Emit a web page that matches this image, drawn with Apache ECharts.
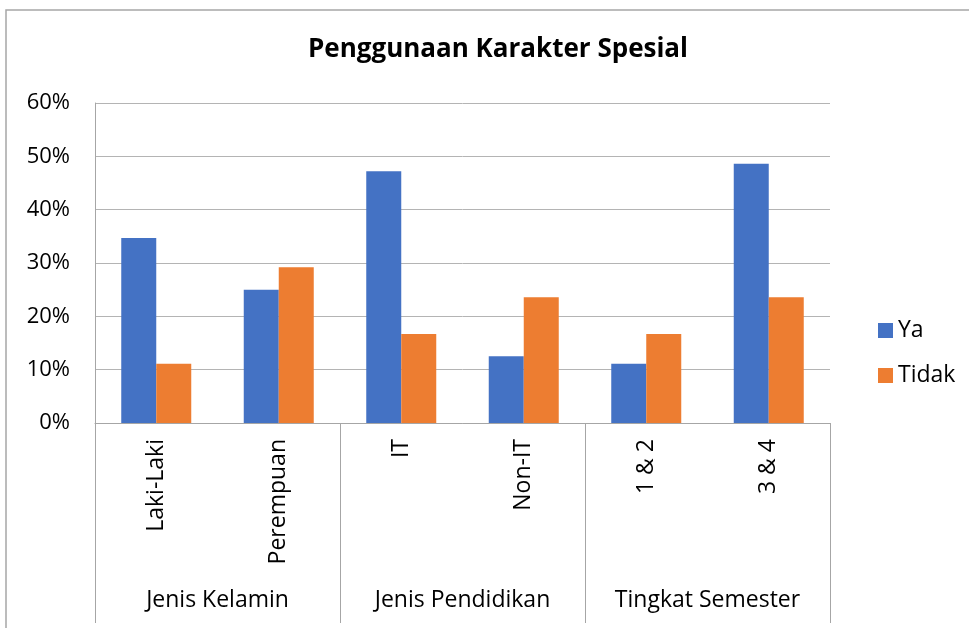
<!DOCTYPE html>
<html>
<head>
<meta charset="utf-8">
<script src="https://cdn.jsdelivr.net/npm/echarts@6/dist/echarts.min.js"></script>
<style>
  html, body { margin: 0; padding: 0; background: #fff; }
  #main { width: 969px; height: 628px; }
</style>
</head>
<body>
<div id="main"></div>
<script>
// data
var categories = ['Laki-Laki', 'Perempuan', 'IT', 'Non-IT', '1 & 2', '3 & 4'];
var groups = ['Jenis Kelamin', 'Jenis Pendidikan', 'Tingkat Semester'];
var ya = [0.347, 0.25, 0.472, 0.125, 0.111, 0.486];
var tidak = [0.111, 0.292, 0.167, 0.236, 0.167, 0.236];
var yTicks = [0, 0.1, 0.2, 0.3, 0.4, 0.5, 0.6];

var font = '"Open Sans", sans-serif';
var myChart = echarts.init(document.getElementById('main'));
var option = {
  animation: false,
  textStyle: { fontFamily: font },
  title: {
    text: 'Penggunaan Karakter Spesial',
    left: 493,
    top: 32,
    textAlign: 'center',
    textStyle: { fontFamily: font, fontSize: 26, fontWeight: 'bold', color: '#000' }
  },
  graphic: [{
    type: 'rect',
    shape: { x: 6, y: 10, width: 1000, height: 700 },
    style: { fill: 'none', stroke: '#A6A6A6', lineWidth: 1.5 },
    silent: true
  }],
  legend: {
    orient: 'vertical',
    left: 873,
    top: 314,
    itemWidth: 15,
    itemHeight: 15,
    itemGap: 22,
    icon: 'rect',
    textStyle: { fontSize: 23, color: '#000', fontFamily: font },
    data: ['Ya', 'Tidak']
  },
  grid: { left: 95, right: 139, top: 103, bottom: 205, containLabel: false },
  xAxis: [
    {
      type: 'category',
      data: categories,
      axisLine: { lineStyle: { color: '#A6A6A6', width: 1 } },
      axisTick: { show: false },
      axisLabel: { rotate: 90, margin: 16, fontSize: 23, color: '#000', fontFamily: font, interval: 0 }
    },
    {
      type: 'category',
      data: groups,
      position: 'bottom',
      axisLine: { show: false },
      axisTick: { show: true, length: 200, lineStyle: { color: '#A6A6A6', width: 1 } },
      axisLabel: { margin: 166, fontSize: 23, color: '#000', fontFamily: font, interval: 0 }
    }
  ],
  yAxis: {
    type: 'value',
    min: 0,
    max: 0.6,
    interval: 0.1,
    axisLine: { show: true, lineStyle: { color: '#A6A6A6' } },
    axisTick: { show: false },
    splitLine: { lineStyle: { color: '#B4B4B4', width: 1 } },
    axisLabel: {
      margin: 25,
      fontSize: 22,
      color: '#000',
      fontFamily: font,
      formatter: function (v) { return Math.round(v * 100) + '%'; }
    }
  },
  series: [
    { name: 'Ya', type: 'bar', data: ya, barWidth: 35, barGap: '0%', itemStyle: { color: '#4472C4' } },
    { name: 'Tidak', type: 'bar', data: tidak, barWidth: 35, barGap: '0%', itemStyle: { color: '#ED7D31' } }
  ]
};
myChart.setOption(option);
</script>
</body>
</html>
